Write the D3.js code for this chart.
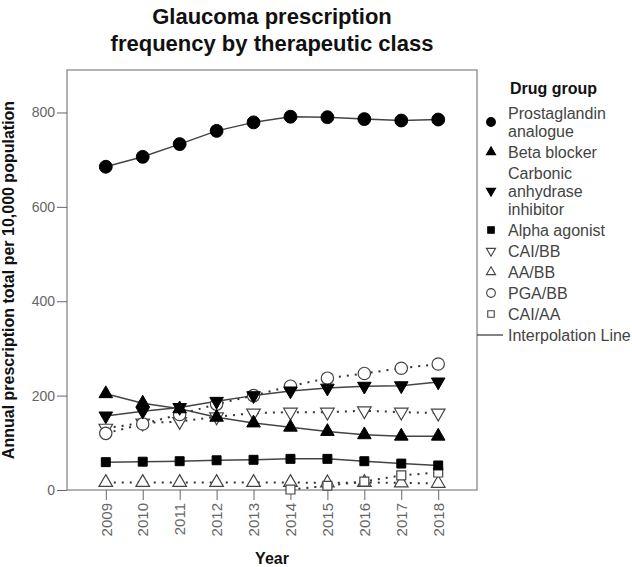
<!DOCTYPE html>
<html>
<head>
<meta charset="utf-8">
<script src="https://cdn.jsdelivr.net/npm/d3@7"></script>
<style>
  body { margin: 0; background: #fff; }
  text { font-family: "Liberation Sans", Arial, sans-serif; }
</style>
</head>
<body>
<svg id="chart" width="632" height="567"></svg>
<script>
"use strict";

// values
let years = [2009, 2010, 2011, 2012, 2013, 2014, 2015, 2016, 2017, 2018];
let pga = [685, 706, 733, 761, 779, 791, 790, 786, 783, 785];
let beta_blocker = [204, 184, 172, 154, 142, 133, 124, 117, 114, 114];
let cai = [157, 167, 175, 188, 200, 210, 216, 220, 221, 229];
let alpha_agonist = [59, 60, 61, 63, 64, 66, 66, 61, 56, 52];
let cai_bb = [131, 142, 145, 155, 163, 165, 165, 168, 165, 163];
let aa_bb = [16, 16, 16, 16, 16, 16, 15, 16, 15, 14];
let pga_bb = [120, 140, 160, 182, 200, 220, 237, 247, 258, 267];
let cai_aa = [null, null, null, null, null, 1, 9, 18, 31, 37];
let y_ticks = [0, 200, 400, 600, 800];

let groups = [
    {name: ["Prostaglandin", "analogue"], values: pga, shape: "circle", filled: true, dotted: false},
    {name: ["Beta blocker"], values: beta_blocker, shape: "up", filled: true, dotted: false},
    {name: ["Carbonic", "anhydrase", "inhibitor"], values: cai, shape: "down", filled: true, dotted: false},
    {name: ["Alpha agonist"], values: alpha_agonist, shape: "square", filled: true, dotted: false},
    {name: ["CAI/BB"], values: cai_bb, shape: "down", filled: false, dotted: true},
    {name: ["AA/BB"], values: aa_bb, shape: "up", filled: false, dotted: true},
    {name: ["PGA/BB"], values: pga_bb, shape: "circle", filled: false, dotted: true},
    {name: ["CAI/AA"], values: cai_aa, shape: "square", filled: false, dotted: true},
];

let svg = d3.select("#chart");
let plot_left = 67, plot_right = 477, plot_top = 70, plot_bottom = 490;

let x = d3.scalePoint().domain(years).range([plot_left, plot_right]).padding(1.05);
let y = d3.scaleLinear().domain([0, 890]).range([plot_bottom, plot_top]);

let symbol_types = {circle: d3.symbolCircle, up: d3.symbolTriangle, down: d3.symbolTriangle, square: d3.symbolSquare};

function marker_path(shape, size) {
    return d3.symbol().type(symbol_types[shape]).size(size)();
}

// title
let title = svg.append("text").attr("x", 272).attr("y", 24)
    .attr("text-anchor", "middle").attr("font-size", 22).attr("font-weight", "bold").attr("fill", "#111");
title.append("tspan").attr("x", 272).text("Glaucoma prescription");
title.append("tspan").attr("x", 272).attr("dy", 27).text("frequency by therapeutic class");

// frame
svg.append("rect").attr("x", plot_left).attr("y", plot_top)
    .attr("width", plot_right - plot_left).attr("height", plot_bottom - plot_top)
    .attr("fill", "none").attr("stroke", "#666").attr("stroke-width", 1);

// y axis
let y_axis = svg.append("g").attr("transform", `translate(${plot_left},0)`)
    .call(d3.axisLeft(y).tickValues(y_ticks).tickSize(10).tickSizeOuter(0).tickPadding(2));
y_axis.select(".domain").remove();
y_axis.selectAll("line").attr("stroke", "#666");
y_axis.selectAll("text").attr("font-size", 14).attr("fill", "#666").style("font-family", "Liberation Sans, Arial, sans-serif");

// x axis with rotated year labels
let x_axis = svg.append("g").attr("transform", `translate(0,${plot_bottom})`)
    .call(d3.axisBottom(x).tickSize(10).tickSizeOuter(0));
x_axis.select(".domain").remove();
x_axis.selectAll("line").attr("stroke", "#666");
x_axis.selectAll("text")
    .attr("font-size", 15).attr("fill", "#666").style("font-family", "Liberation Sans, Arial, sans-serif")
    .attr("transform", "rotate(-90)")
    .attr("text-anchor", "end")
    .attr("x", -13).attr("y", 0).attr("dy", "0.35em");

// axis titles
svg.append("text").attr("x", 272).attr("y", 564).attr("text-anchor", "middle")
    .attr("font-size", 16).attr("font-weight", "bold").attr("fill", "#111").text("Year");
svg.append("text").attr("transform", `translate(14,${(plot_top + plot_bottom) / 2}) rotate(-90)`)
    .attr("text-anchor", "middle").attr("font-size", 16).attr("font-weight", "bold").attr("fill", "#111")
    .text("Annual prescription total per 10,000 population");

// lines
let line = d3.line().defined(d => d.v != null).x(d => x(d.year)).y(d => y(d.v));
let plot = svg.append("g");
groups.forEach(g => {
    let pts = years.map((yr, i) => ({year: yr, v: g.values[i]}));
    plot.append("path").datum(pts).attr("d", line)
        .attr("fill", "none").attr("stroke", g.dotted ? "#333" : "#444")
        .attr("stroke-width", g.dotted ? 2 : 1.5)
        .attr("stroke-dasharray", g.dotted ? "2,6" : null)
        .attr("stroke-linecap", "butt");
});

// markers, draw open ones first then filled on top
let draw_order = groups.filter(g => !g.filled).concat(groups.filter(g => g.filled));
draw_order.forEach(g => {
    let size = g.shape == "circle" ? (g.filled ? 130 : 120) : (g.shape == "square" ? 80 : 80);
    years.forEach((yr, i) => {
        let v = g.values[i];
        if (v == null) return;
        plot.append("path").attr("d", marker_path(g.shape, size))
            .attr("transform", `translate(${x(yr)},${y(v)})` + (g.shape == "down" ? " rotate(180)" : ""))
            .attr("fill", g.filled ? "#000" : "#fff")
            .attr("stroke", g.filled ? "#000" : "#444")
            .attr("stroke-width", g.filled ? 1 : 1.2);
    });
});

// legend
let legend = svg.append("g");
let lx = 491, tx = 508, line_h = 18, item_gap = 21;
legend.append("text").attr("x", 510).attr("y", 94).attr("font-size", 16).attr("font-weight", "bold")
    .attr("fill", "#111").text("Drug group");

let ly = 113;
groups.forEach(g => {
    let n = g.name.length;
    let mid = ly + (n - 1) * line_h / 2;
    let size = g.shape == "circle" ? 60 : (g.shape == "square" ? 42 : 36);
    legend.append("path").attr("d", marker_path(g.shape, size))
        .attr("transform", `translate(${lx},${mid})` + (g.shape == "down" ? " rotate(180)" : ""))
        .attr("fill", g.filled ? "#000" : "#fff")
        .attr("stroke", g.filled ? "#000" : "#444").attr("stroke-width", 1.1);
    g.name.forEach((s, k) => {
        legend.append("text").attr("x", tx).attr("y", ly + k * line_h).attr("dy", "0.35em")
            .attr("font-size", 16).attr("fill", "#444").text(s);
    });
    ly += (n - 1) * line_h + item_gap;
});
legend.append("line").attr("x1", plot_right).attr("x2", 503).attr("y1", ly).attr("y2", ly)
    .attr("stroke", "#333").attr("stroke-width", 1.2);
legend.append("text").attr("x", tx).attr("y", ly).attr("dy", "0.35em")
    .attr("font-size", 16).attr("fill", "#444").text("Interpolation Line");
</script>
</body>
</html>
